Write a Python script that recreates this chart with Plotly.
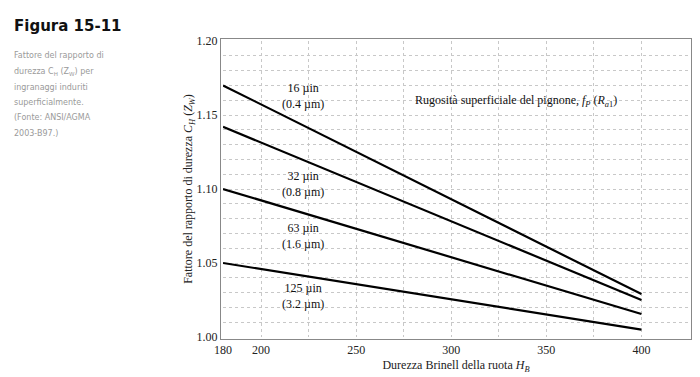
import plotly.graph_objects as go

# Data
hardness = [180, 400]
series_names = ["16 µin (0.4 µm)", "32 µin (0.8 µm)", "63 µin (1.6 µm)", "125 µin (3.2 µm)"]
ch_16 = [1.170, 1.029]
ch_32 = [1.142, 1.025]
ch_63 = [1.100, 1.0155]
ch_125 = [1.050, 1.005]
all_series = [ch_16, ch_32, ch_63, ch_125]

label_texts = ["16 µin<br>(0.4 µm)", "32 µin<br>(0.8 µm)", "63 µin<br>(1.6 µm)", "125 µin<br>(3.2 µm)"]
label_x = [222, 222, 222, 222]
label_y = [1.163, 1.1035, 1.068, 1.028]

x_tickvals = [180, 200, 250, 300, 350, 400]
y_tickvals = [1.00, 1.05, 1.10, 1.15, 1.20]
y_ticktext = ["1.00", "1.05", "1.10", "1.15", "1.20"]

serif = "Liberation Serif, Times New Roman, serif"

fig = go.Figure()
for name, ys in zip(series_names, all_series):
    fig.add_trace(go.Scatter(x=hardness, y=ys, mode="lines", name=name,
                             line=dict(color="black", width=2.2), showlegend=False))

for t, xx, yy in zip(label_texts, label_x, label_y):
    fig.add_annotation(x=xx, y=yy, text=t, showarrow=False, xref="x", yref="y",
                       font=dict(family=serif, size=12, color="#111"), align="center")

fig.add_annotation(x=334, y=1.1595, xref="x", yref="y", showarrow=False,
                   text="Rugosità superficiale del pignone, <i>f<sub>P</sub></i> (<i>R</i><sub><i>a</i>1</sub>)",
                   font=dict(family=serif, size=12, color="#111"))

fig.add_annotation(x=4, y=18, xref="paper", yref="paper", showarrow=False,
                   text="<b>Figura 15-11</b>", xanchor="left", yanchor="middle",
                   font=dict(family="DejaVu Sans, sans-serif", size=15, color="#111"))

caption_lines = ["Fattore del rapporto di", "durezza C<sub>H</sub> (Z<sub>W</sub>) per",
                 "ingranaggi induriti", "superficialmente.", "(Fonte: ANSI/AGMA",
                 "2003-B97.)"]
for i, line in enumerate(caption_lines):
    fig.add_annotation(x=4, y=48 + i * 15.5, xref="paper", yref="paper", showarrow=False,
                       text=line, xanchor="left", yanchor="middle",
                       font=dict(family="DejaVu Sans, sans-serif", size=8, color="#9a9a9a"))

# convert pixel positions of figure-level annotations to paper coords
W, H = 700, 377
ml, mr, mt, mb = 215, 19, 33, 48
pw, ph = W - ml - mr, H - mt - mb
for ann in fig.layout.annotations:
    if ann.xref == "paper":
        ann.x = (ann.x - ml) / pw
        ann.y = (H - mb - ann.y) / ph

fig.update_layout(
    width=W, height=H,
    margin=dict(l=ml, r=mr, t=mt, b=mb, pad=2),
    paper_bgcolor="white", plot_bgcolor="white",
    xaxis=dict(range=[180, 425], tickvals=x_tickvals, showgrid=False,
               showline=True, linecolor="#888", linewidth=1, mirror=True,
               ticks="", zeroline=False,
               tickfont=dict(family=serif, size=12, color="#222"),
               minor=dict(tick0=0, dtick=25, showgrid=True, gridcolor="#c8c8c8",
                          griddash="dot", gridwidth=1, ticks=""),
               title=dict(text="Durezza Brinell della ruota <i>H<sub>B</sub></i>",
                          font=dict(family=serif, size=12, color="#222"), standoff=6)),
    yaxis=dict(range=[1.0, 1.2], tickvals=y_tickvals, ticktext=y_ticktext,
               showgrid=True, gridcolor="#c8c8c8", griddash="dot",
               showline=True, linecolor="#888", linewidth=1, mirror=True,
               ticks="", zeroline=False,
               tickfont=dict(family=serif, size=12, color="#222"),
               minor=dict(dtick=0.01, showgrid=True, gridcolor="#c8c8c8",
                          griddash="dot", gridwidth=1, ticks=""),
               title=dict(text="Fattore del rapporto di durezza <i>C<sub>H</sub></i> (<i>Z<sub>W</sub></i>)",
                          font=dict(family=serif, size=12, color="#222"), standoff=2)),
)

fig.write_html("out.html")
